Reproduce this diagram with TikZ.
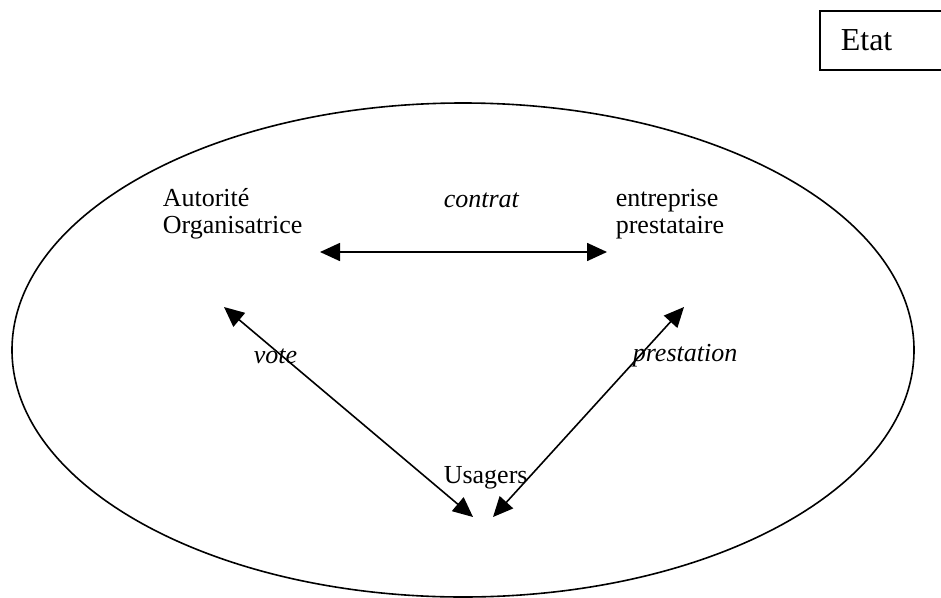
\documentclass[tikz,border=0pt]{standalone}
\usepackage{fontspec}
\setmainfont{Liberation Serif}
\usetikzlibrary{%
  arrows.meta,shapes.geometric}
\tikzset {>={Triangle[length=20pt,width=18pt]}}
\tikzset {texte/.style={anchor=base west,inner sep=0pt,align=left,
    font=\fontsize{26}{26.5}\selectfont},
  lien/.style={texte,font=\fontsize{26}{26.5}\selectfont\itshape}}

\begin{document}
\begin{tikzpicture}[x=1pt,y=-1pt,line width=1.6pt]
\useasboundingbox (0,0) rectangle (941,597);
\node[ellipse,draw,inner sep=0pt,minimum width=902pt,minimum height=494pt] (ville) at (463,350) {};
\node[draw,anchor=north west,inner xsep=21pt,text width=82pt,minimum height=59pt,
  font=\fontsize{32}{36}\selectfont] (etat) at (819,10) {Etat};
% base = baseline of the last line
\node[texte] (ao) at (162,233) {Autorité\\Organisatrice};
\node[texte] (ep) at (615,233) {entreprise\\prestataire};
\node[lien] (contrat) at (443,207) {contrat};
\node[lien] (vote) at (253,363) {vote};
\node[lien] (prest) at (632,361) {prestation};
\node[texte] (usagers) at (443,483) {Usagers};
\coordinate (a1) at (320,252);
\coordinate (e1) at (607,252);
\coordinate (a2) at (224,307);
\coordinate (e2) at (684,307);
\coordinate (u1) at (473,517);
\coordinate (u2) at (493,517);
\draw[<->] (a1) -- (e1);
\draw[<->] (a2) -- (u1);
\draw[<->] (e2) -- (u2);
\end{tikzpicture}
\end{document}
